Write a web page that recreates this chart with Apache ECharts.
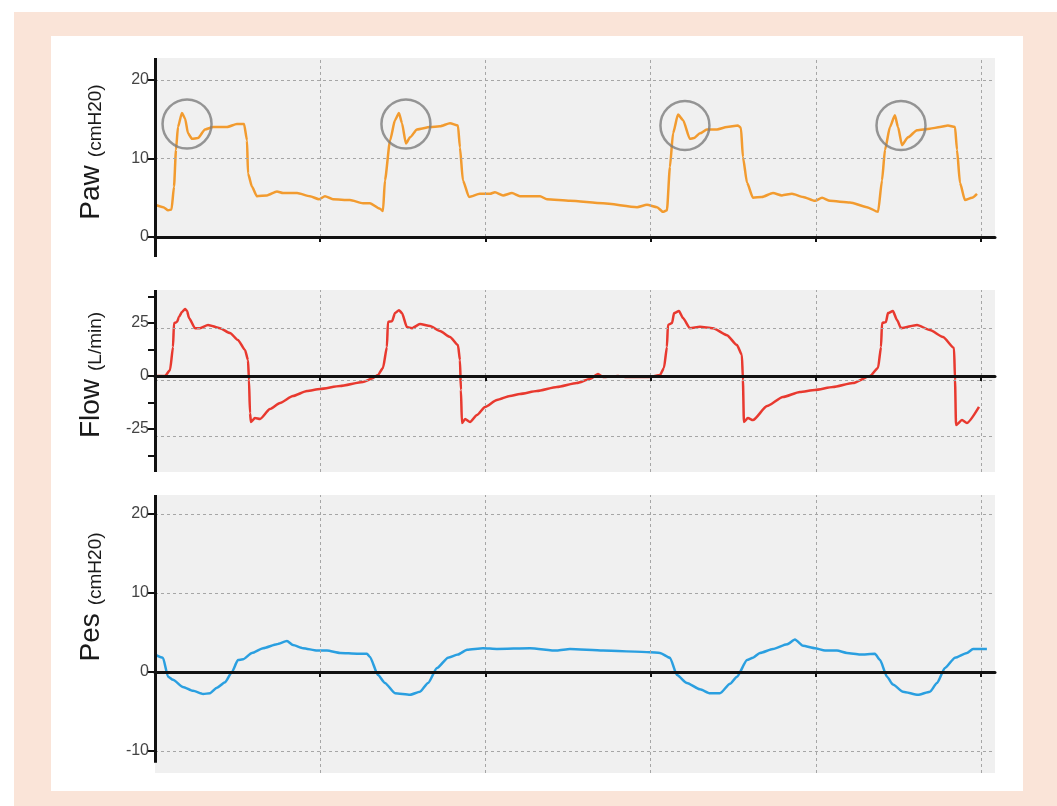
<!DOCTYPE html>
<html>
<head>
<meta charset="utf-8">
<title>Paw / Flow / Pes</title>
<script src="https://cdn.jsdelivr.net/npm/echarts@6/dist/echarts.min.js"></script>
<style>
  html, body { margin: 0; padding: 0; background: #fff; }
  .frame { position: absolute; left: 14px; top: 12px; width: 1043px; height: 794px; background: #fae4d8; }
  .card { position: absolute; left: 51px; top: 36px; width: 972px; height: 755px; background: #fff; }
  #chart { position: absolute; left: 0; top: 0; width: 1057px; height: 806px; }
</style>
</head>
<body>
<div class="frame"></div>
<div class="card"></div>
<div id="chart"></div>
<script>
// time in grid units (one dashed vertical line per unit)
const xGridLines = [1, 2, 3, 4, 5]

// airway pressure
const pawTime = [0, 0.05, 0.08, 0.10, 0.115, 0.127, 0.139, 0.163, 0.182, 0.200, 0.224, 0.260, 0.303, 0.351, 0.436, 0.496, 0.539, 0.557, 0.563, 0.587,
  0.617, 0.678, 0.738, 0.775, 0.860, 0.938, 0.993, 1.029, 1.077, 1.180, 1.259, 1.301, 1.362, 1.380, 1.392, 1.423, 1.453, 1.477, 1.495, 1.519,
  1.544, 1.586, 1.665, 1.725, 1.786, 1.834, 1.846, 1.864, 1.901, 1.967, 2.028, 2.058, 2.107, 2.161, 2.209, 2.331, 2.373, 2.512, 2.712, 2.918,
  2.978, 3.039, 3.075, 3.099, 3.117, 3.136, 3.166, 3.196, 3.238, 3.263, 3.299, 3.341, 3.402, 3.462, 3.529, 3.547, 3.559, 3.584, 3.620, 3.674,
  3.741, 3.795, 3.856, 3.923, 3.995, 4.038, 4.086, 4.207, 4.310, 4.377, 4.401, 4.419, 4.449, 4.479, 4.498, 4.522, 4.558, 4.613, 4.691, 4.752,
  4.800, 4.843, 4.855, 4.873, 4.903, 4.946, 4.976]
const pawValues = [4.1, 3.8, 3.4, 3.5, 6.4, 11.1, 14.0, 15.8, 15.1, 13.2, 12.5, 12.6, 13.7, 14.0, 14.0, 14.4, 14.4, 12.3, 8.1, 6.4,
  5.2, 5.3, 5.8, 5.6, 5.6, 5.2, 4.8, 5.2, 4.8, 4.7, 4.3, 4.3, 3.6, 3.3, 7.2, 12.3, 14.9, 15.8, 14.5, 11.9,
  12.7, 13.7, 14.0, 14.1, 14.5, 14.2, 11.4, 7.2, 5.1, 5.5, 5.5, 5.7, 5.3, 5.6, 5.2, 5.2, 4.8, 4.6, 4.3, 3.8,
  4.1, 3.8, 3.2, 3.4, 8.9, 13.2, 15.6, 14.9, 12.5, 12.6, 13.2, 13.7, 13.7, 14.0, 14.2, 13.9, 10.2, 6.9, 5.0, 5.1,
  5.6, 5.3, 5.5, 5.1, 4.6, 5.0, 4.6, 4.4, 3.8, 3.2, 7.2, 11.1, 14.0, 15.5, 14.0, 11.7, 12.7, 13.6, 13.8, 14.0,
  14.2, 14.0, 11.1, 6.9, 4.7, 5.0, 5.5]

// flow
const flowTime = [0, 0.061, 0.091, 0.109, 0.115, 0.133, 0.145, 0.163, 0.182, 0.194, 0.206, 0.242, 0.272, 0.321, 0.393, 0.454, 0.502, 0.545, 0.563, 0.569,
  0.575, 0.581, 0.605, 0.636, 0.696, 0.757, 0.835, 0.920, 0.999, 1.120, 1.259, 1.313, 1.350, 1.380, 1.404, 1.410, 1.435, 1.453, 1.477, 1.495,
  1.525, 1.556, 1.604, 1.665, 1.725, 1.786, 1.834, 1.846, 1.852, 1.858, 1.877, 1.907, 1.949, 1.998, 2.070, 2.149, 2.209, 2.312, 2.433, 2.554,
  2.633, 2.682, 2.712, 2.803, 2.857, 2.893, 2.996, 3.057, 3.081, 3.099, 3.105, 3.130, 3.142, 3.172, 3.196, 3.238, 3.299, 3.378, 3.462, 3.523,
  3.553, 3.559, 3.565, 3.589, 3.620, 3.705, 3.801, 3.904, 3.995, 4.104, 4.225, 4.328, 4.377, 4.395, 4.401, 4.425, 4.437, 4.467, 4.492, 4.516,
  4.613, 4.691, 4.770, 4.837, 4.843, 4.849, 4.885, 4.915, 4.988]
const flowValues = [0, 0, 2.8, 13.7, 25.0, 25.5, 27.8, 30.2, 31.6, 30.7, 27.4, 22.6, 22.6, 24.1, 22.6, 20.3, 17.0, 12.3, 7.5, -1.9,
  -17.5, -21.7, -19.8, -20.3, -15.6, -12.7, -9.4, -7.1, -6.1, -4.7, -2.8, -1.2, 0.5, 3.8, 13.7, 25.5, 25.9, 29.7, 31.1, 29.7,
  23.1, 22.6, 24.5, 23.6, 21.2, 18.4, 14.6, 7.5, -6.6, -22.2, -20.3, -21.7, -18.4, -14.6, -11.3, -9.4, -8.5, -7.1, -5.2, -3.3,
  -1.4, 0.9, -0.5, 0, -0.5, -0.5, -0.5, 0.5, 3.8, 13.7, 24.1, 25.0, 29.7, 30.7, 27.4, 22.6, 23.3, 22.6, 19.3, 14.6,
  9.9, -1.9, -21.7, -19.8, -20.8, -14.2, -9.9, -7.5, -6.6, -5.2, -3.3, 0, 3.8, 13.7, 25.0, 25.5, 29.7, 30.7, 26.4, 22.6,
  24.1, 21.7, 18.4, 13.2, -1.9, -23.1, -20.8, -22.2, -14.6]

// oesophageal pressure
const pesTime = [0, 0.048, 0.079, 0.109, 0.169, 0.230, 0.291, 0.333, 0.375, 0.424, 0.466, 0.502, 0.533, 0.587, 0.654, 0.738, 0.799, 0.835, 0.896, 0.981,
  1.041, 1.120, 1.223, 1.283, 1.301, 1.350, 1.392, 1.453, 1.544, 1.604, 1.653, 1.707, 1.774, 1.834, 1.889, 1.985, 2.070, 2.270, 2.433, 2.512,
  2.712, 2.996, 3.057, 3.117, 3.160, 3.220, 3.299, 3.360, 3.420, 3.481, 3.523, 3.584, 3.620, 3.662, 3.741, 3.826, 3.874, 3.923, 3.995, 4.056,
  4.128, 4.189, 4.268, 4.358, 4.389, 4.431, 4.467, 4.528, 4.619, 4.691, 4.734, 4.782, 4.843, 4.915, 4.952, 5.036]
const pesValues = [2.2, 1.8, -0.6, -1.0, -1.9, -2.4, -2.8, -2.7, -2.0, -1.3, 0, 1.5, 1.6, 2.4, 3.0, 3.5, 3.9, 3.4, 3.0, 2.7,
  2.7, 2.4, 2.3, 2.3, 1.9, -0.4, -1.4, -2.7, -2.9, -2.5, -1.4, 0.5, 1.8, 2.2, 2.8, 3.0, 2.9, 3.0, 2.7, 2.9,
  2.7, 2.5, 2.4, 1.8, -0.4, -1.4, -2.2, -2.7, -2.7, -1.5, -0.6, 1.5, 1.8, 2.4, 2.9, 3.5, 4.1, 3.3, 3.0, 2.7,
  2.7, 2.4, 2.2, 2.3, 1.5, -0.6, -1.6, -2.5, -2.9, -2.5, -1.4, 0.5, 1.8, 2.4, 2.9, 2.9]

// tick labels
const pawTicks = [0, 10, 20]
const flowTicks = [-25, 0, 25]
const pesTicks = [-10, 0, 10, 20]

// circled pressure overshoots
const circleTime = [0.194, 1.519, 3.208, 4.516]
const circleValues = [14.4, 14.4, 14.2, 14.2]

const X_MAX = 5.085
const FONT = 'Liberation Sans, Arial, Helvetica, sans-serif'

const panels = [
  { name: 'Paw', unit: '(cmH20)', time: pawTime, values: pawValues, color: '#f29b2f',
    top: 58, height: 199, min: -2.55, max: 22.8, gray: [0, 22.8], axisSpan: [-2.55, 22.8],
    ticks: pawTicks, labels: pawTicks, hLines: [10, 20], titleY: 152 },
  { name: 'Flow', unit: '(L/min)', time: flowTime, values: flowValues, color: '#e8392f',
    top: 290, height: 182, min: -45.3, max: 40.6, gray: [-45.3, 40.6], axisSpan: [-45.3, 40.6],
    ticks: [-37.5, -25, -12.5, 0, 12.5, 25, 37.5], labels: flowTicks, hLines: [22.6, -1.9, -28.3], titleY: 375 },
  { name: 'Pes', unit: '(cmH20)', time: pesTime, values: pesValues, color: '#2a9fe0',
    top: 495, height: 278, min: -12.8, max: 22.4, gray: [-12.8, 22.4], axisSpan: [-11.5, 22.4],
    ticks: pesTicks, labels: pesTicks, hLines: [-10, 10, 20], titleY: 597 }
]

const dashed = { color: '#a6a6a6', width: 1, type: [3, 3] }

const grid = []
const xAxis = []
const yAxis = []
const series = []
const graphic = []

panels.forEach((p, i) => {
  grid.push({ left: 155, right: 62, top: p.top, height: p.height })
  xAxis.push({
    type: 'value', gridIndex: i, min: 0, max: X_MAX, interval: 1, z: 10,
    axisLine: { onZero: true, lineStyle: { color: '#111', width: 3 } },
    axisTick: { show: true, customValues: xGridLines, length: 5, lineStyle: { color: '#111', width: 2 } },
    axisLabel: { show: false },
    splitLine: { show: false }
  })
  yAxis.push({
    type: 'value', gridIndex: i, min: p.min, max: p.max, z: 10,
    axisLine: { show: false },
    axisTick: { show: true, customValues: p.ticks, length: 7, lineStyle: { color: '#111', width: 2 } },
    axisLabel: { customValues: p.labels, color: '#444', fontSize: 16, fontFamily: FONT, margin: 6 },
    splitLine: { show: false }
  })

  // gray plot background
  series.push({
    type: 'line', xAxisIndex: i, yAxisIndex: i, data: [], z: 1, silent: true,
    markArea: {
      silent: true,
      itemStyle: { color: '#f0f0f0', opacity: 1 },
      data: [[{ xAxis: 0, yAxis: p.gray[0] }, { xAxis: X_MAX, yAxis: p.gray[1] }]]
    }
  })
  // dashed grid
  const lines = xGridLines.map(x => [{ coord: [x, p.gray[0]] }, { coord: [x, p.gray[1]] }])
    .concat(p.hLines.map(y => [{ coord: [0, y] }, { coord: [X_MAX, y] }]))
  series.push({
    type: 'line', xAxisIndex: i, yAxisIndex: i, data: [], z: 2, silent: true,
    markLine: { silent: true, symbol: 'none', label: { show: false }, lineStyle: dashed, data: lines }
  })
  // trace
  series.push({
    name: p.name, type: 'line', xAxisIndex: i, yAxisIndex: i, z: 3,
    data: p.time.map((t, k) => [t, p.values[k]]),
    showSymbol: false, smooth: 0.2, smoothMonotone: 'x',
    lineStyle: { color: p.color, width: 2.5 }
  })
  // y axis line
  series.push({
    type: 'line', xAxisIndex: i, yAxisIndex: i, data: [], z: 4, silent: true,
    markLine: {
      silent: true, symbol: 'none', label: { show: false },
      lineStyle: { color: '#111', width: 3, type: 'solid' },
      data: [[{ coord: [0, p.axisSpan[0]] }, { coord: [0, p.axisSpan[1]] }]]
    }
  })

  graphic.push({
    type: 'text', x: 90, y: p.titleY, rotation: Math.PI / 2,
    style: {
      text: '{a|' + p.name + '}{b|' + p.unit + '}',
      align: 'center', verticalAlign: 'middle', fill: '#1a1a1a',
      rich: {
        a: { fontSize: 28, fontFamily: FONT, fill: '#1a1a1a', lineHeight: 30, verticalAlign: 'bottom' },
        b: { fontSize: 19, fontFamily: FONT, fill: '#1a1a1a', lineHeight: 30, verticalAlign: 'bottom', padding: [0, 0, 0, 8] }
      }
    }
  })
})

series.push({
  type: 'scatter', xAxisIndex: 0, yAxisIndex: 0, z: 6, silent: true,
  data: circleTime.map((t, k) => [t, circleValues[k]]),
  symbol: 'circle', symbolSize: 49,
  itemStyle: { color: 'rgba(0,0,0,0)', borderColor: '#7d7d7d', borderWidth: 2.5 }
})

const chart = echarts.init(document.getElementById('chart'))
chart.setOption({
  animation: false,
  grid, xAxis, yAxis, series, graphic
})
</script>
</body>
</html>
